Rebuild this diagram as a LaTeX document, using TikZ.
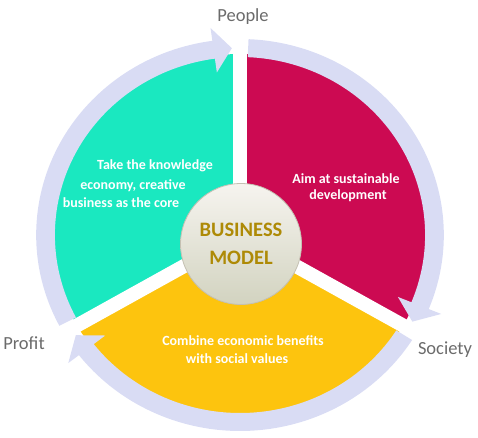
\documentclass[tikz,border=0pt]{standalone}
\usepackage{fontspec}
\setmainfont{Carlito}
\definecolor{tealc}{HTML}{1AE8C0}
\definecolor{crim}{HTML}{CC0A52}
\definecolor{yel}{HTML}{FDC40E}
\definecolor{ringc}{HTML}{D9DCF4}
\definecolor{labgray}{HTML}{6B6B6B}
\definecolor{gold}{HTML}{AE8A06}
\definecolor{bmtop}{HTML}{F6F4EF}
\definecolor{bmbot}{HTML}{D2D3C0}
\definecolor{bmedge}{HTML}{C4C0B2}
\newcommand\ringarrow[2]{%
  \fill[ringc] (#1:178) -- (#1:196)
    arc[start angle=#1, end angle=#2+5.4, radius=196]
    -- (#2+5.4:209) -- (#2:187) -- (#2+5.4:164) -- (#2+5.4:178)
    arc[start angle=#2+5.4, end angle=#1, radius=178] -- cycle;}
\begin{document}
\begin{tikzpicture}[x=1pt,y=1pt,
  outer/.style={font=\fontsize{18.5}{20}\selectfont, text=labgray, inner sep=0pt, anchor=base},
  inner/.style={font=\fontsize{14}{16}\selectfont\bfseries, text=white, inner sep=0pt, anchor=base},
  gapline/.style={white, line width=14pt}]
\useasboundingbox (0,0) rectangle (478,437);
\begin{scope}[shift={(240,202)}, xscale=1.04]
  \coordinate (O) at (0,0);
  \fill[tealc] (O) -- (90:181) arc[start angle=90, end angle=210, radius=181] -- cycle;
  \fill[crim] (O) -- (90:181) arc[start angle=90, end angle=-30, radius=181] -- cycle;
  \fill[yel] (O) -- (-30:181) arc[start angle=-30, end angle=-150, radius=181] -- cycle;
  \coordinate (g1) at (90:183);
  \coordinate (g2) at (-30:183);
  \coordinate (g3) at (210:183);
  \draw[gapline] (O) -- (g1);
  \draw[gapline] (O) -- (g2);
  \draw[gapline] (O) -- (g3);
  \ringarrow{207.6}{92.4}
  \ringarrow{87.6}{-27.6}
  \ringarrow{-32.4}{-147.6}
\end{scope}
\node[circle, minimum size=121pt, inner sep=0pt, draw=bmedge, line width=0.8pt,
  top color=bmtop, bottom color=bmbot,
  align=center, text=gold, font=\fontsize{20.5}{28}\selectfont\bfseries] (bm) at (241,193) {BUSINESS\\MODEL};
\node[outer] (people) at (243,415) {People};
\node[outer] (society) at (445,83) {Society};
\node[outer] (profit) at (24,88) {Profit};
\node[inner] (t1) at (155,268) {Take the knowledge};
\node[inner] (t2) at (133,248) {economy, creative};
\node[inner] (t3) at (121,230) {business as the core};
\node[inner] (r1) at (346,254) {Aim at sustainable};
\node[inner] (r2) at (348,238) {development};
\node[inner] (y1) at (243,92) {Combine economic benefits};
\node[inner] (y2) at (237,74) {with social values};
\end{tikzpicture}
\end{document}
